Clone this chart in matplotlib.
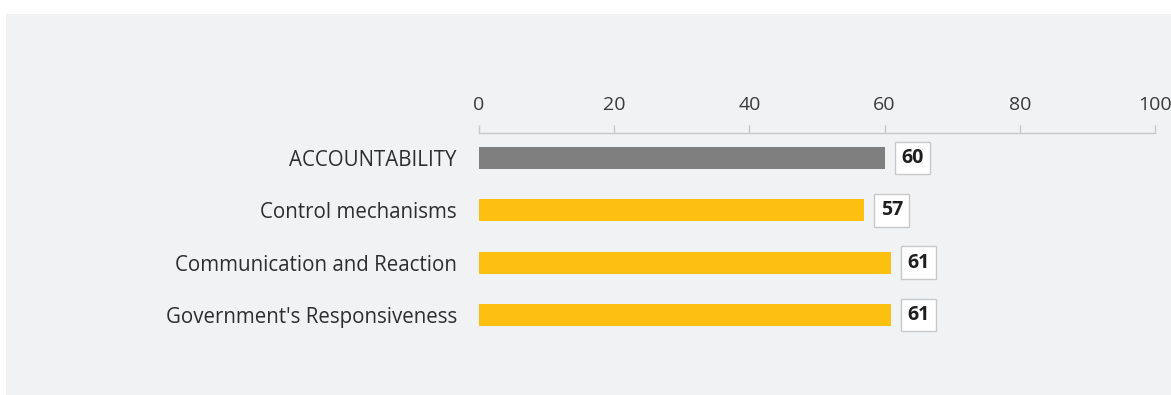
import matplotlib
matplotlib.use("Agg")
import matplotlib.pyplot as plt
from matplotlib.patches import Rectangle

categories = ["ACCOUNTABILITY", "Control mechanisms", "Communication and Reaction", "Government's Responsiveness"]
values = [60, 57, 61, 61]
colors = ["#7f7f7f", "#fdc010", "#fdc010", "#fdc010"]
xticks = [0, 20, 40, 60, 80, 100]

plt.rcParams['font.family'] = ['Open Sans', 'DejaVu Sans']

W, H = 1171, 395
fig = plt.figure(figsize=(W/100, H/100), dpi=100, facecolor="white")
fig.patches.append(Rectangle((6/W, 0), 1 - 6/W, 1 - 13/H - 0.003, transform=fig.transFigure,
                             facecolor="#f1f2f4", edgecolor="none", zorder=-10))

ax = fig.add_axes([479/W, 1 - 341/H, (1155-479)/W, (341-133)/H])
ax.set_facecolor("none")
ypos = list(range(len(categories)))
ax.barh(ypos, values, height=0.42, color=colors, zorder=2)
ax.set_xlim(0, 100)
ax.set_ylim(3.495, -0.476)

for s in ["bottom", "left", "right"]:
    ax.spines[s].set_visible(False)
ax.spines["top"].set_color("#c8c8c8")
ax.spines["top"].set_linewidth(1.0)
ax.xaxis.set_ticks_position("top")
ax.set_xticks(xticks)
ax.set_xticklabels([str(t) for t in xticks])
ax.tick_params(axis="x", direction="out", length=6, width=1, color="#c8c8c8",
               labelsize=14, labelcolor="#3a3a3a", pad=7.5)
ax.set_yticks(ypos)
ax.set_yticklabels(categories)
ax.tick_params(axis="y", length=0, labelsize=14.8, labelcolor="#2e2e2e", pad=16)

pad_frac = 0.33
fs = 14
pad_px = pad_frac * fs * 100 / 72
for y, v in zip(ypos, values):
    ax.annotate(str(v), xy=(v, y), xytext=(10 + pad_px, 0), textcoords="offset pixels",
                ha="left", va="center", fontsize=fs, fontweight="bold", color="#1e1e1e",
                bbox=dict(boxstyle=f"square,pad={pad_frac}", facecolor="white",
                          edgecolor="#c8c8c8", linewidth=1))

fig.savefig("out.png", dpi=100)
